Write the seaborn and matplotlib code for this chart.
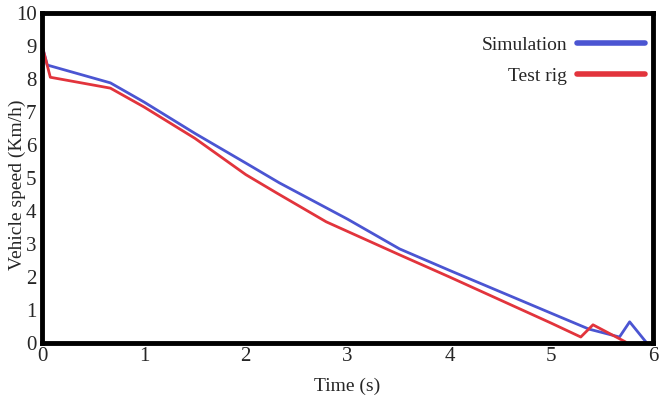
import matplotlib
matplotlib.use("Agg")
import matplotlib.pyplot as plt
from matplotlib.lines import Line2D
import seaborn as sns
import pandas as pd

# Simulation curve (time s, speed km/h)
sim_t = [0.0, 0.05, 0.67, 1.0, 1.5, 2.0, 2.33, 3.0, 3.51, 4.0, 4.5, 5.0, 5.37, 5.67, 5.77, 5.93]
sim_v = [9.0, 8.42, 7.88, 7.3, 6.35, 5.45, 4.85, 3.75, 2.85, 2.2, 1.55, 0.9, 0.42, 0.18, 0.64, 0.03]

# Test rig curve
rig_t = [0.0, 0.08, 0.67, 1.0, 1.5, 2.0, 2.3, 2.79, 3.51, 4.0, 4.5, 5.0, 5.29, 5.41, 5.73]
rig_v = [9.0, 8.05, 7.72, 7.15, 6.2, 5.1, 4.55, 3.67, 2.67, 2.0, 1.3, 0.6, 0.18, 0.55, 0.03]

labels = ["Simulation", "Test rig"]
colors = ["#4b55d2", "#e2343c"]

df = pd.concat([
    pd.DataFrame({"t": sim_t, "v": sim_v, "series": labels[0]}),
    pd.DataFrame({"t": rig_t, "v": rig_v, "series": labels[1]}),
])

sns.set_style("white")
plt.rcParams["font.family"] = ["Liberation Serif", "DejaVu Serif"]

fig = plt.figure(figsize=(6.59, 4.03), dpi=100)
ax = fig.add_axes([0.064, 0.149, 0.927, 0.819])

sns.lineplot(data=df, x="t", y="v", hue="series", palette=colors,
             sort=False, estimator=None, linewidth=2.0, ax=ax, legend=False)

ax.set_xlim(0, 6)
ax.set_ylim(0, 10)
ax.set_xticks(range(0, 7))
ax.set_yticks(range(0, 11))
ax.tick_params(length=0, labelsize=15)
ax.tick_params(axis="x", pad=3)
ax.tick_params(axis="y", pad=4)
for s in ax.spines.values():
    s.set_linewidth(3.5)
    s.set_color("black")

ax.set_xlabel("Time (s)", fontsize=14, labelpad=8)
ax.set_ylabel("Vehicle speed (Km/h)", fontsize=14)
ax.yaxis.set_label_coords(-0.027, 0.48)

handles = [Line2D([], [], color=c, linewidth=4) for c in colors]
ax.legend(handles, labels, loc="upper right", frameon=False, markerfirst=False,
          fontsize=14, handlelength=3.5, handletextpad=0.5, labelspacing=0.7,
          bbox_to_anchor=(1.006, 0.965), borderaxespad=0.2)

fig.savefig("out.png", dpi=100)
